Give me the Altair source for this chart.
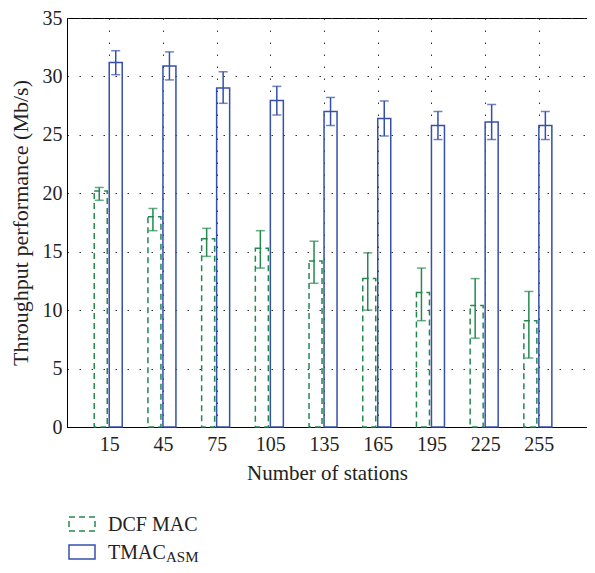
import altair as alt
import pandas as pd

# ---- data ----
stations = [15, 45, 75, 105, 135, 165, 195, 225, 255]
dcf_mean = [20.2, 18.0, 16.1, 15.3, 14.2, 12.7, 11.5, 10.4, 9.1]
dcf_low = [19.4, 16.8, 14.6, 13.6, 12.3, 10.0, 9.1, 7.6, 5.9]
dcf_high = [20.5, 18.7, 17.0, 16.8, 15.9, 14.9, 13.6, 12.7, 11.6]
tmac_mean = [31.2, 30.9, 29.0, 27.95, 27.0, 26.4, 25.8, 26.1, 25.8]
tmac_low = [30.15, 29.7, 27.7, 26.7, 25.8, 24.9, 24.6, 24.6, 24.6]
tmac_high = [32.2, 32.1, 30.4, 29.15, 28.2, 27.9, 27.0, 27.6, 27.0]
y_ticks = [0, 5, 10, 15, 20, 25, 30, 35]
legend_labels = ["DCF MAC", "TMAC"]
legend_subscript = "ASM"

GREEN = "#23894e"
BLUE = "#3450ac"
FONT = "Liberation Serif"

dcf = pd.DataFrame({"n": stations, "v": dcf_mean, "lo": dcf_low, "hi": dcf_high})
tmac = pd.DataFrame({"n": stations, "v": tmac_mean, "lo": tmac_low, "hi": tmac_high})

xs = alt.Scale(domain=[-5.8, 279.1], nice=False, zero=False)
ys = alt.Scale(domain=[0, 35], nice=False)

X = alt.X("n:Q", scale=xs,
          axis=alt.Axis(values=stations, title="Number of stations", grid=True))
Y = alt.Y("v:Q", scale=ys,
          axis=alt.Axis(values=y_ticks, title="Throughput performance (Mb/s)", grid=True,
                        titleFontSize=22))


def series(df, color, dash, bar_off, err_off):
    base = alt.Chart(df)
    bar_kw = dict(width=13, xOffset=bar_off, fillOpacity=0, stroke=color, strokeWidth=1.5)
    if dash:
        bar_kw["strokeDash"] = dash
    bars = base.mark_bar(**bar_kw).encode(x=X, y=Y)
    rule = base.mark_rule(color=color, strokeWidth=1.5, xOffset=err_off).encode(
        x=alt.X("n:Q", scale=xs), y=alt.Y("lo:Q", scale=ys), y2="hi:Q")
    cap_lo = base.mark_tick(color=color, orient="horizontal", size=9, thickness=1.5,
                            xOffset=err_off).encode(
        x=alt.X("n:Q", scale=xs), y=alt.Y("lo:Q", scale=ys))
    cap_hi = base.mark_tick(color=color, orient="horizontal", size=9, thickness=1.5,
                            xOffset=err_off).encode(
        x=alt.X("n:Q", scale=xs), y=alt.Y("hi:Q", scale=ys))
    return [bars, rule, cap_lo, cap_hi]


layers = []
layers += series(dcf, GREEN, [6, 4], -8.5, -10)
layers += series(tmac, BLUE, None, 6.5, 6.5)

# ---- legend drawn below the plot ----
one = pd.DataFrame({"k": [0]})
leg_g = alt.Chart(one).mark_rect(fillOpacity=0, stroke=GREEN, strokeWidth=1.5,
                                 strokeDash=[6, 4]).encode(
    x=alt.value(2), x2=alt.value(28), y=alt.value(499), y2=alt.value(513))
leg_b = alt.Chart(one).mark_rect(fillOpacity=0, stroke=BLUE, strokeWidth=1.5).encode(
    x=alt.value(2), x2=alt.value(28), y=alt.value(527), y2=alt.value(541))
txt_g = alt.Chart(one).mark_text(align="left", baseline="alphabetic", font=FONT,
                                 fontSize=20, color="#222").encode(
    x=alt.value(41), y=alt.value(513), text=alt.value(legend_labels[0]))
txt_b = alt.Chart(one).mark_text(align="left", baseline="alphabetic", font=FONT,
                                 fontSize=20, color="#222").encode(
    x=alt.value(41), y=alt.value(541), text=alt.value(legend_labels[1]))
txt_sub = alt.Chart(one).mark_text(align="left", baseline="alphabetic", font=FONT,
                                   fontSize=15, color="#222").encode(
    x=alt.value(99), y=alt.value(544), text=alt.value(legend_subscript))
layers += [leg_g, leg_b, txt_g, txt_b, txt_sub]

chart = alt.layer(*layers).properties(
    width=520, height=409,
    autosize=alt.AutoSizeParams(type="none"),
    padding={"left": 59, "top": 10, "right": 0, "bottom": 138},
    background="white",
).configure_view(
    stroke="black", strokeWidth=1
).configure_axis(
    labelFont=FONT, titleFont=FONT, labelFontSize=20, titleFontSize=21,
    labelColor="#222", titleColor="#222", titleFontWeight="normal",
    domainColor="black", domainWidth=1, ticks=False, tickSize=0,
    gridColor="#333", gridDash=[1.5, 10.5], gridWidth=1, gridOpacity=1,
).configure_axisX(
    labelPadding=7, titlePadding=8
).configure_axisY(
    labelPadding=5, titlePadding=10
)

chart.save("out.html", embed_options={"renderer": "svg", "actions": False})
